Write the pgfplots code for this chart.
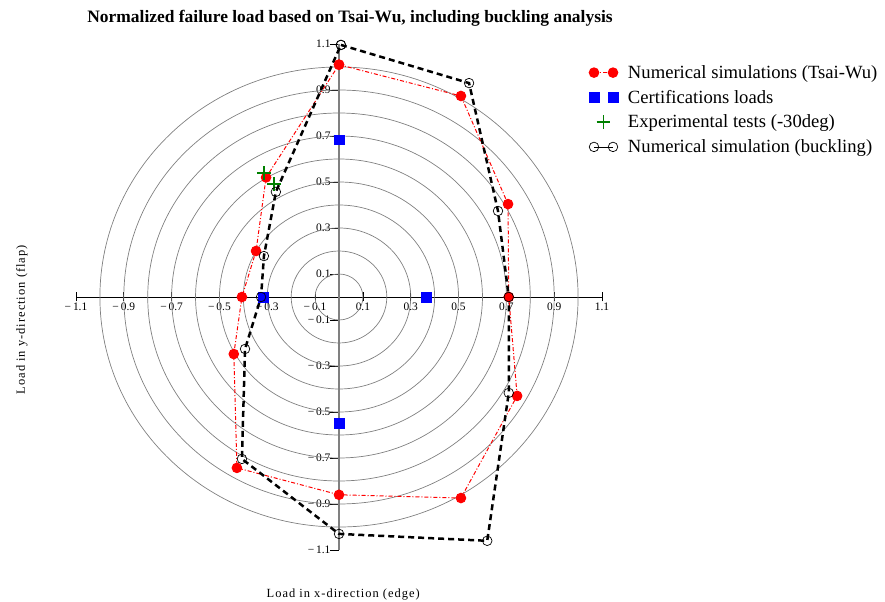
\documentclass[border=0pt]{standalone}
\usepackage{fontspec}
\setmainfont{Liberation Serif}
\newfontfamily\spaced[LetterSpace=8]{Liberation Serif}
\usepackage{pgfplots}
\pgfplotsset{compat=1.18}
\definecolor{mygreen}{RGB}{0,128,0}
\pgfplotsset{
  legtwo/.style={legend image code/.code={\path[draw=none,fill=none] (-6bp,0bp) -- (32bp,0bp); \draw[##1, mark repeat=1] plot coordinates {(0bp,0bp) (19bp,0bp)};}},
  legtwom/.style={legend image code/.code={\path[draw=none,fill=none] (-6bp,0bp) -- (32bp,0bp); \path[##1] plot coordinates {(0bp,0bp) (19bp,0bp)};}},
  legone/.style={legend image code/.code={\path[draw=none,fill=none] (-6bp,0bp) -- (32bp,0bp); \path[##1] plot coordinates {(9.5bp,0bp)};}},
  legbk/.style={legend image code/.code={\path[draw=none,fill=none] (-6bp,0bp) -- (32bp,0bp); \draw[##1, mark repeat=1, solid, line width=0.8pt] plot coordinates {(0bp,0bp) (19bp,0bp)};}},
}
\begin{document}
\begin{tikzpicture}
\useasboundingbox (0bp,0bp) rectangle (885bp,602bp);
\begin{axis}[
  at={(76bp,52bp)}, anchor=south west,
  scale only axis, width=526bp, height=506bp,
  xmin=-1.1, xmax=1.1, ymin=-1.1, ymax=1.1,
  clip=false,
  axis lines=middle,
  x axis line style={black, line width=0.8pt, -},
  y axis line style={gray, line width=1.4pt, -},
  xtick={-1.1,-0.9,-0.7,-0.5,-0.3,-0.1,0.1,0.3,0.5,0.7,0.9,1.1},
  ytick={-1.1,-0.9,-0.7,-0.5,-0.3,-0.1,0.1,0.3,0.5,0.7,0.9,1.1},
  xticklabels={−\,1.1,−\,0.9,−\,0.7,−\,0.5,−\,0.3,−\,0.1,0.1,0.3,0.5,0.7,0.9,1.1},
  yticklabels={−\,1.1,−\,0.9,−\,0.7,−\,0.5,−\,0.3,−\,0.1,0.1,0.3,0.5,0.7,0.9,1.1},
  tick style={black, line width=0.7pt},
  major tick length=9bp,
  xtick align=center,
  ytick align=outside,
  tick label style={font=\fontsize{11.5}{12}\selectfont},
  xticklabel style={yshift=2bp},
  yticklabel style={xshift=4bp},
  legend style={draw=none, fill=none, at={(0.973,0.962)}, anchor=north west, inner sep=0pt,
    font=\fontsize{18.7}{21}\selectfont, row sep=6.3bp, cells={anchor=west}},
]
\draw[gray, line width=0.7pt] (axis cs:0,0) ellipse [x radius=0.1, y radius=0.1];
\draw[gray, line width=0.7pt] (axis cs:0,0) ellipse [x radius=0.2, y radius=0.2];
\draw[gray, line width=0.7pt] (axis cs:0,0) ellipse [x radius=0.3, y radius=0.3];
\draw[gray, line width=0.7pt] (axis cs:0,0) ellipse [x radius=0.4, y radius=0.4];
\draw[gray, line width=0.7pt] (axis cs:0,0) ellipse [x radius=0.5, y radius=0.5];
\draw[gray, line width=0.7pt] (axis cs:0,0) ellipse [x radius=0.6, y radius=0.6];
\draw[gray, line width=0.7pt] (axis cs:0,0) ellipse [x radius=0.7, y radius=0.7];
\draw[gray, line width=0.7pt] (axis cs:0,0) ellipse [x radius=0.8, y radius=0.8];
\draw[gray, line width=0.7pt] (axis cs:0,0) ellipse [x radius=0.9, y radius=0.9];
\draw[gray, line width=0.7pt] (axis cs:0,0) ellipse [x radius=1.0, y radius=1.0];
\addplot[red, line width=1pt, dash pattern=on 4bp off 2bp on 1bp off 2bp,
  mark=*, mark size=4.8pt, mark options={solid, fill=red, draw=red}, legtwo]
coordinates {(0,1.01) (0.51,0.874) (0.707,0.404) (0.71,0) (0.745,-0.43) (0.51,-0.874) (0,-0.86) (-0.427,-0.743) (-0.44,-0.248) (-0.406,0) (-0.347,0.2) (-0.305,0.52) (0,1.01)};
\addlegendentry{Numerical simulations (Tsai-Wu)}
\addplot[only marks, mark=square*, mark size=4.8pt, mark options={fill=blue, draw=blue}, legtwom]
coordinates {(0,0.683) (0.364,0) (-0.318,0) (0,-0.548)};
\addlegendentry{Certifications loads}
\addplot[only marks, mark=+, mark size=7pt, mark options={draw=mygreen, line width=1.6pt}, legone]
coordinates {(-0.314,0.539) (-0.272,0.491)};
\addlegendentry{Experimental tests (-30deg)}
\addplot[black, line width=2.5pt, dash pattern=on 6bp off 4bp,
  mark=o, mark size=4.8pt, mark options={solid, line width=0.7pt, draw=black}, legbk]
coordinates {(0.008,1.096) (0.544,0.93) (0.665,0.374) (0.71,0) (0.71,-0.417) (0.62,-1.06) (0,-1.03) (-0.406,-0.704) (-0.393,-0.226) (-0.326,0) (-0.314,0.178) (-0.264,0.457) (0.008,1.096)};
\addlegendentry{Numerical simulation (buckling)}
\node[font=\fontsize{17.5}{19}\selectfont\bfseries] at (axis description cs:0.521,1.051) {Normalized failure load based on Tsai-Wu, including buckling analysis};
\node[font=\fontsize{12.5}{14}\selectfont\spaced] at (axis description cs:0.508,-0.087) {Load in x-direction (edge)};
\node[font=\fontsize{12.5}{14}\selectfont\spaced, rotate=90] at (axis description cs:-0.103,0.455) {Load in y-direction (flap)};
\end{axis}
\end{tikzpicture}
\end{document}
